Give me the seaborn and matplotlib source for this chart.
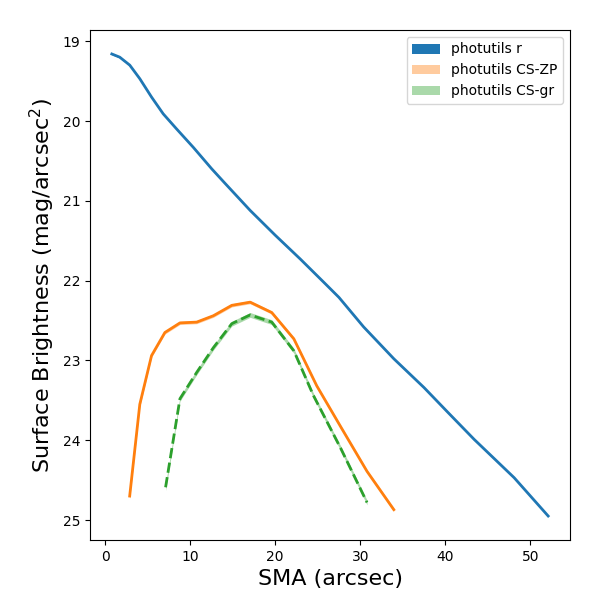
import matplotlib
matplotlib.use("Agg")
import matplotlib.pyplot as plt
import seaborn as sns
import numpy as np
import pandas as pd

# photutils r profile
r_sma = [0.8, 1.73, 2.91, 4.09, 5.47, 6.84, 8.42, 10.38, 12.55, 14.1, 17.06,
         20.0, 22.96, 25.9, 27.5, 30.4, 33.96, 37.5, 40.3, 43.4, 48.1, 52.1]
r_mu = [19.16, 19.20, 19.30, 19.47, 19.70, 19.91, 20.10, 20.33, 20.60, 20.78, 21.12,
        21.43, 21.73, 22.04, 22.21, 22.58, 22.98, 23.34, 23.65, 23.99, 24.47, 24.95]
r_err = [0.01] * len(r_sma)

# photutils CS-ZP profile
zp_sma = [2.9, 4.09, 5.47, 7.04, 8.81, 10.78, 12.74, 14.9, 17.06, 19.6, 22.2,
          24.9, 27.7, 30.8, 33.95]
zp_mu = [24.70, 23.55, 22.94, 22.65, 22.53, 22.52, 22.44, 22.31, 22.27, 22.40, 22.73,
         23.32, 23.83, 24.39, 24.87]
zp_err = [0.04, 0.03, 0.02, 0.02, 0.02, 0.02, 0.02, 0.02, 0.02, 0.02, 0.02,
          0.02, 0.02, 0.02, 0.02]

# photutils CS-gr profile
gr_sma = [7.12, 8.81, 10.78, 12.74, 14.9, 17.06, 19.6, 22.2, 24.5, 27.7, 30.8]
gr_mu = [24.59, 23.48, 23.15, 22.84, 22.54, 22.43, 22.52, 22.88, 23.44, 24.10, 24.78]
gr_err = [0.04, 0.03, 0.03, 0.03, 0.03, 0.03, 0.03, 0.03, 0.03, 0.03, 0.03]

labels = ["photutils r", "photutils CS-ZP", "photutils CS-gr"]

fig, ax = plt.subplots(figsize=(6, 6), dpi=100)
fig.subplots_adjust(left=0.15, right=0.95, bottom=0.1, top=0.95)

series = [
    (r_sma, r_mu, r_err, "C0", "-", 1.0, labels[0]),
    (zp_sma, zp_mu, zp_err, "C1", "-", 0.4, labels[1]),
    (gr_sma, gr_mu, gr_err, "C2", "--", 0.4, labels[2]),
]

for sma, mu, err, col, ls, alpha, lab in series:
    df = pd.DataFrame({"sma": sma, "mu": mu, "err": err})
    ax.fill_between(df["sma"], df["mu"] - df["err"], df["mu"] + df["err"],
                    color=col, alpha=alpha, label=lab, linewidth=0)
    sns.lineplot(data=df, x="sma", y="mu", color=col, linestyle=ls,
                 linewidth=2, ax=ax, legend=False)

ax.invert_yaxis()
ax.set_xlabel("SMA (arcsec)", fontsize=16)
ax.set_ylabel("Surface Brightness (mag/arcsec$^2$)", fontsize=16)
ax.legend(loc="upper right")

fig.savefig("out.png", dpi=100)
